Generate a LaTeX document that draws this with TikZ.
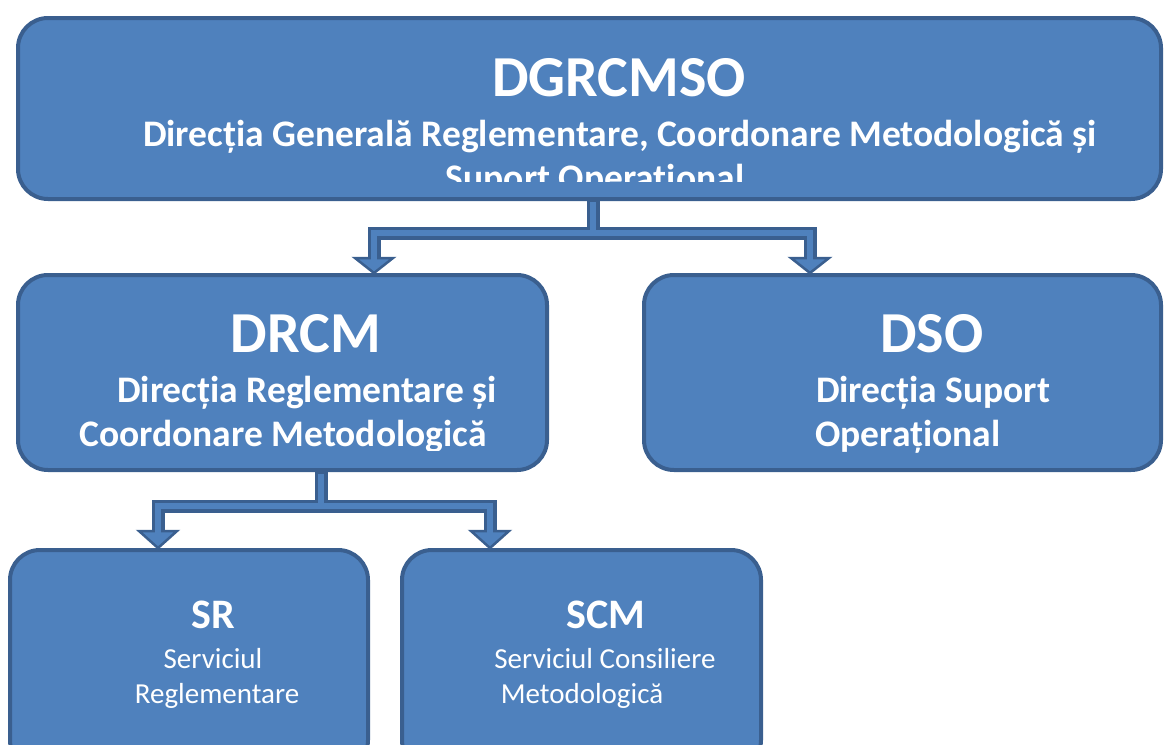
\documentclass[tikz,border=0pt]{standalone}
\usepackage{fontspec}
\setmainfont{Carlito}
\usetikzlibrary{calc}
\definecolor{boxfill}{HTML}{4F81BD}
\definecolor{boxline}{HTML}{3A5F8F}
\tikzset{
  x=1pt,y=-1pt,
  orgbox/.style={draw=boxline,fill=boxfill,line width=4pt,rounded corners=30pt,inner sep=0pt,outer sep=0pt},
  bigtitle/.style={anchor=base,text=white,font=\fontsize{58}{62}\selectfont\bfseries,inner sep=0pt},
  boldline/.style={anchor=base,text=white,font=\fontsize{37.5}{42}\selectfont\bfseries,inner sep=0pt},
  smalltitle/.style={anchor=base,text=white,font=\fontsize{42}{46}\selectfont\bfseries,inner sep=0pt},
  plainline/.style={anchor=base,text=white,font=\fontsize{29}{33}\selectfont,inner sep=0pt},
  connout/.style={draw=boxline,line width=13pt,line join=miter},
  connin/.style={draw=boxfill,line width=6pt,line join=miter},
  headtri/.style={fill=boxfill,draw=boxline,line width=2.5pt,line join=miter},
}
\begin{document}
\begin{tikzpicture}
\useasboundingbox (0,0) rectangle (1164,744);
\begin{scope}
\clip (0,0) rectangle (1164,744);
% boxes
\draw[orgbox] (18,18) rectangle (1161,199);
\draw[orgbox] (18,275) rectangle (547,470);
\draw[orgbox] (644,275) rectangle (1161,470);
\draw[orgbox] (10,550) rectangle (368,770);
\draw[orgbox] (402,550) rectangle (761,770);
\coordinate (topbox) at (593,108);
\coordinate (drcm) at (321,372);
\coordinate (dso) at (902,372);
\coordinate (sr) at (189,660);
\coordinate (scm) at (581,660);
% top texts
\begin{scope}
\clip (0,0) rectangle (1164,181);
\node[bigtitle] (t1) at (619,96) {DGRCMSO};
\node[boldline] (t2) at (620,146) {Direcția Generală Reglementare, Coordonare Metodologică și};
\node[boldline] (t3) at (595,190) {Suport Operațional};
\end{scope}
\begin{scope}
\clip (0,0) rectangle (1164,450);
\node[bigtitle] (d1) at (306,352) {DRCM};
\node[boldline] (d2) at (307,402) {Direcția Reglementare și};
\node[boldline] (d3) at (283,446) {Coordonare Metodologică};
\end{scope}
\begin{scope}
\clip (0,0) rectangle (1164,452);
\node[bigtitle] (s1) at (932,352) {DSO};
\node[boldline] (s2) at (933,402) {Direcția Suport};
\node[boldline] (s3) at (908,446) {Operațional};
\end{scope}
\node[smalltitle] (r1) at (213,628) {SR};
\node[plainline] (r2) at (213,668) {Serviciul};
\node[plainline] (r3) at (217,703) {Reglementare};
\node[smalltitle] (c1) at (606,628) {SCM};
\node[plainline] (c2) at (605,668) {Serviciul Consiliere};
\node[plainline] (c3) at (582,703) {Metodologică};
% connectors
\coordinate (j1) at (593,233);
\coordinate (jl) at (374,233);
\coordinate (jr) at (810,233);
\coordinate (hl) at (374,258);
\coordinate (hr) at (810,258);
\coordinate (j2) at (321,506);
\coordinate (kl) at (158,506);
\coordinate (kr) at (490,506);
\coordinate (gl) at (158,531);
\coordinate (gr) at (490,531);
\path[connout] (topbox |- 0,200) -- (j1);
\path[connout] (hl) -- (jl) -- (jr) -- (hr);
\path[connout] (drcm |- 0,471) -- (j2);
\path[connout] (gl) -- (kl) -- (kr) -- (gr);
\path[headtri] ($(hl)+(-19,0)$) -- ($(hl)+(19,0)$) -- (374,273) -- cycle;
\path[headtri] ($(hr)+(-19,0)$) -- ($(hr)+(19,0)$) -- (810,273) -- cycle;
\path[headtri] ($(gl)+(-19,0)$) -- ($(gl)+(19,0)$) -- (158,548) -- cycle;
\path[headtri] ($(gr)+(-19,0)$) -- ($(gr)+(19,0)$) -- (490,548) -- cycle;
\path[connin] (topbox |- 0,202) -- (j1);
\path[connin] (374,261) -- (jl) -- (jr) -- (810,261);
\path[connin] (drcm |- 0,474) -- (j2);
\path[connin] (158,534) -- (kl) -- (kr) -- (490,534);
\end{scope}
\end{tikzpicture}
\end{document}
